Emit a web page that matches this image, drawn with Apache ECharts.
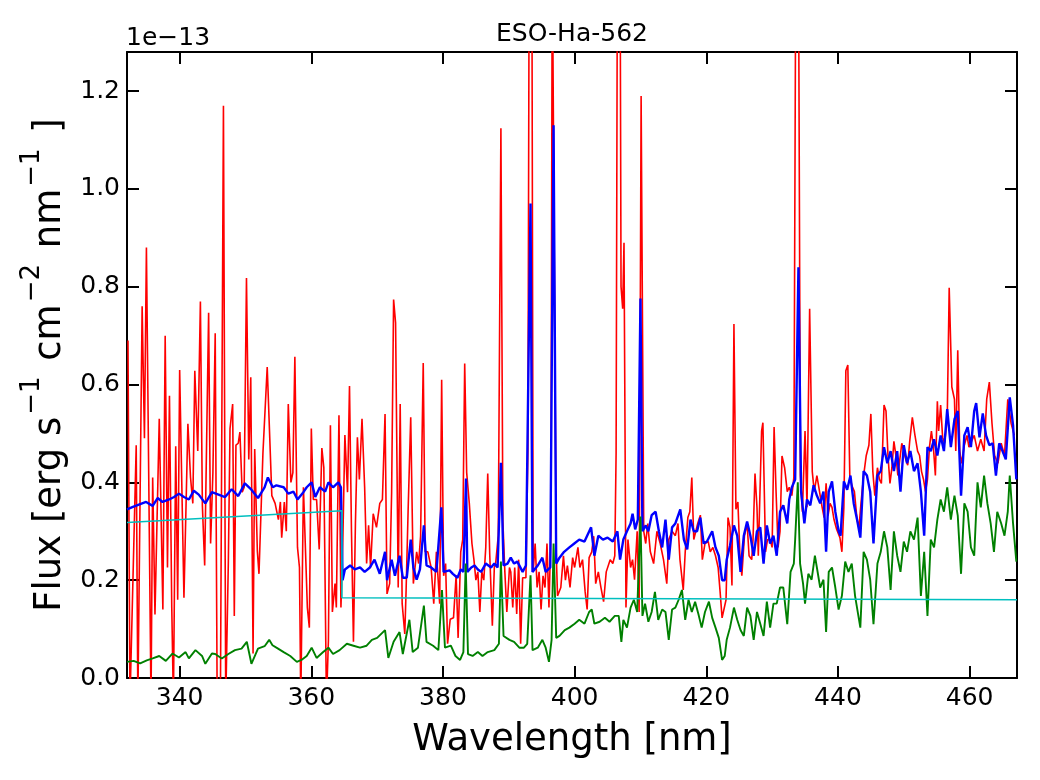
<!DOCTYPE html>
<html>
<head>
<meta charset="utf-8">
<script src="https://cdn.jsdelivr.net/npm/echarts@6/dist/echarts.min.js"></script>
<style>html,body{margin:0;padding:0;background:#fff}#c{width:1040px;height:780px}</style>
</head>
<body>
<div id="c"></div>
<script>
// wavelength [nm], flux [1e-13 erg s^-1 cm^-2 nm^-1]
const xTicks = [340, 360, 380, 400, 420, 440, 460];
const yTicks = [0.0, 0.2, 0.4, 0.6, 0.8, 1.0, 1.2];
const yTickLabels = ['0.0', '0.2', '0.4', '0.6', '0.8', '1.0', '1.2'];
const titleText = 'ESO-Ha-562';
const offsetText = '1e\u221213';

const redSpec = [
[332.15,0.69],[332.45,-0.05],[333.4,0.476],[333.65,-0.05],[334.3,0.76],[334.65,0.49],[334.95,0.88],[335.65,-0.05],[335.9,0.41],[336.25,0.13],[336.9,0.53],[337.45,0.14],[337.8,0.70],[338.15,0.226],[338.45,0.577],[338.8,0.144],[339.05,-0.05],[339.4,0.474],[339.7,0.16],[340.0,0.63],[340.65,0.164],[341.25,0.52],[341.65,0.41],[342.0,0.357],[342.3,0.628],[342.75,0.464],[343.15,0.77],[343.45,0.353],[343.8,0.23],[344.4,0.747],[344.7,0.275],[345.05,0.42],[345.4,0.705],[345.7,-0.05],[346.2,-0.02],[346.65,1.17],[347.0,-0.05],[347.4,0.24],[347.65,0.51],[348.05,0.56],[348.3,0.127],[348.55,0.476],[348.9,0.48],[349.15,0.503],[349.5,0.38],[349.8,0.39],[350.15,0.818],[350.5,0.447],[350.8,0.615],[351.15,0.05],[351.4,0.468],[351.8,0.26],[352.05,0.213],[352.65,0.46],[353.3,0.636],
[354.0,0.373],[354.5,0.357],[355.0,0.324],[355.3,0.36],[355.5,0.287],[355.9,0.36],[356.2,0.30],[356.5,0.56],[356.9,0.40],[357.2,0.42],[357.5,0.657],[357.9,0.267],[358.2,0.226],[358.4,-0.05],[358.8,0.39],[359.1,0.39],[359.4,0.144],[359.7,0.103],[360.0,0.51],[360.3,0.365],[360.8,0.365],[361.2,0.263],[361.6,0.47],[361.9,0.43],[362.3,-0.05],[362.6,0.078],[362.9,0.517],[363.2,0.135],[363.6,0.193],[363.8,0.144],[364.2,0.537],[364.5,0.144],[364.8,0.29],[365.1,0.497],[365.5,0.38],[365.8,0.597],[366.1,0.30],[366.4,0.074],[366.7,0.316],[367.0,0.492],[367.3,0.406],[367.7,0.53],[368.1,0.39],[368.4,0.234],[368.7,0.312],[369.0,0.226],[369.4,0.336],[369.9,0.308],[370.4,0.357],[370.8,0.365],[371.2,0.54],[371.5,0.172],[371.9,0.193],[372.2,0.38],[372.5,0.774],[372.8,0.726],[373.2,0.185],[373.5,0.56],[373.8,0.152],[374.2,0.09],[374.4,0.18],[374.7,0.34],[375.1,0.533],[375.5,0.193],[376.0,0.258],[376.3,0.234],[376.6,0.29],[377.0,0.644],[377.3,0.258],[377.7,0.258],[378.2,0.226],[378.6,0.152],[379.0,0.258],[379.5,0.152],[379.8,0.61],[380.1,0.209],[380.4,0.234],[380.7,0.07],[381.1,0.12],[381.6,0.123],[382.0,0.21],[382.3,0.082],[382.7,0.258],[383.0,0.283],[383.3,0.643],[383.6,0.42],[384.0,0.357],[384.4,0.275],[384.7,0.242],[385.0,0.20],[385.3,0.217],[385.6,0.135],[385.9,0.217],[386.2,0.20],[386.5,0.267],[386.8,0.418],[387.1,0.254],[387.5,0.107],[387.8,0.226],[388.0,0.234],[388.4,0.291],[388.8,1.124],[389.1,0.32],[389.4,0.217],[389.7,0.135],[390.1,0.226],[390.3,0.217],[390.6,0.144],[390.9,0.226],[391.2,0.131],[391.5,0.242],[391.8,0.07],[392.1,0.205],[392.6,0.205],[392.9,0.464],[393.1,1.5],[393.5,1.5],[393.7,0.217],[394.0,0.275],[394.3,0.185],[394.6,0.217],[394.9,0.14],[395.2,0.209],[395.5,0.185],[395.8,0.275],[396.1,0.144],[396.4,0.30],[396.6,1.5],[396.9,1.5],[397.2,0.258],[397.4,0.168],[397.9,0.185],[398.3,0.25],[398.6,0.20],[398.9,0.23],[399.3,0.185],[399.7,0.246],[400.0,0.226],[400.5,0.267],[400.8,0.226],[401.2,0.242],[401.6,0.176],[401.9,0.14],[402.2,0.246],[402.6,0.258],[402.9,0.29],[403.2,0.193],[403.6,0.217],[404.0,0.185],[404.4,0.156],[404.8,0.217],[405.1,0.217],[405.4,0.242],[405.8,0.234],[406.1,0.25],[406.3,0.46],[406.5,1.5],[406.9,1.5],[407.05,0.8],[407.3,0.755],[407.5,0.89],[407.8,0.144],[408.1,0.283],[408.5,0.226],[408.8,0.242],[409.1,0.201],[409.5,0.30],[409.8,0.135],[410.1,1.19],[410.5,0.30],
[410.8,0.275],[411.1,0.316],[411.5,0.258],[412.0,0.234],[412.5,0.30],[413.0,0.275],[413.5,0.242],[414.0,0.193],[414.3,0.283],[414.8,0.30],[415.3,0.291],[415.7,0.316],[416.0,0.242],[416.5,0.18],[416.8,0.258],[417.2,0.328],[417.5,0.34],[417.8,0.41],[418.1,0.283],[418.4,0.279],[418.7,0.316],[419.1,0.333],[419.4,0.242],[419.8,0.275],[420.3,0.279],[420.6,0.258],[421.0,0.267],[421.4,0.25],[421.8,0.226],[422.1,0.176],[422.4,0.123],[422.7,0.119],[423.0,0.16],[423.3,0.328],[423.6,0.308],[423.9,0.189],[424.2,0.724],[424.5,0.345],[424.8,0.36],[425.1,0.254],[425.4,0.209],[425.8,0.291],[426.2,0.316],[426.5,0.25],[426.9,0.242],[427.1,0.283],[427.4,0.418],[427.7,0.349],[427.9,0.25],[428.4,0.505],[428.6,0.522],[429.0,0.258],[429.3,0.283],[429.7,0.283],[430.0,0.267],[430.3,0.513],[430.6,0.381],[430.9,0.267],[431.2,0.30],[431.5,0.454],[431.9,0.43],[432.3,0.381],[432.6,0.39],[433.0,0.373],[433.3,0.41],[433.6,1.5],[434.0,1.5],[434.3,0.414],[434.6,0.34],[435.0,0.505],[435.3,0.349],[435.7,0.755],[436.1,0.422],[436.4,0.381],[436.8,0.414],[437.1,0.39],
[437.3,0.373],[437.6,0.349],[437.9,0.328],[438.2,0.398],[438.5,0.332],[438.8,0.357],[439.1,0.349],[439.4,0.324],[439.8,0.304],[440.3,0.287],[440.6,0.258],[440.9,0.349],[441.2,0.628],[441.5,0.64],[441.8,0.414],[442.1,0.394],[442.5,0.381],[442.9,0.324],[443.2,0.308],[443.5,0.357],[443.9,0.414],[444.3,0.455],[444.7,0.476],[445.0,0.54],[445.3,0.422],[445.6,0.373],[446.0,0.43],[446.3,0.406],[446.6,0.398],[447.0,0.558],[447.3,0.546],[447.6,0.455],[447.9,0.398],[448.2,0.43],[448.5,0.484],[448.8,0.455],[449.1,0.414],[449.4,0.447],[449.7,0.48],[450.0,0.484],[450.3,0.447],[450.6,0.435],[450.9,0.484],[451.3,0.533],[451.7,0.496],[452.1,0.464],[452.4,0.455],[452.7,0.422],[453.0,0.406],[453.3,0.381],[453.6,0.406],[453.9,0.472],[454.2,0.505],[454.5,0.472],[454.8,0.414],[455.1,0.566],[455.3,0.505],[455.6,0.558],[455.9,0.492],[456.2,0.48],[456.6,0.529],[456.9,0.798],[457.3,0.595],[457.7,0.57],[457.9,0.464],[458.2,0.67],[458.5,0.464],[458.8,0.439],[459.2,0.476],[459.6,0.496],[459.9,0.472],[460.3,0.484],[460.7,0.496],[461.2,0.464],[461.7,0.488],[462.2,0.464],[462.6,0.57],[463.0,0.605],[463.4,0.521],[463.8,0.455],[464.3,0.439],[464.8,0.48],[465.3,0.455],[465.8,0.57],[466.3,0.521],[466.8,0.496]
];

const blueSpec = [
[332.0,0.345],[332.9,0.35],[333.9,0.355],[334.9,0.36],[335.9,0.352],[336.65,0.368],[337.4,0.36],[338.4,0.365],[339.15,0.37],[339.9,0.377],[340.65,0.37],[341.4,0.365],[342.15,0.383],[342.9,0.375],[343.9,0.357],[344.9,0.38],[345.9,0.375],[346.9,0.37],[347.9,0.386],[348.9,0.372],[349.9,0.398],[350.9,0.385],[351.9,0.368],[352.9,0.39],[353.4,0.41],[354.15,0.39],
[354.7,0.394],[355.8,0.39],[356.5,0.377],[357.3,0.381],[357.9,0.365],[358.8,0.38],[359.3,0.39],[360.05,0.40],[360.6,0.37],[361.3,0.39],[362.1,0.381],[362.6,0.40],[363.3,0.39],[364.1,0.40],[364.5,0.39],[364.75,0.20],[365.1,0.222],[365.9,0.23],[366.6,0.222],[367.4,0.226],[368.1,0.217],[368.9,0.226],[369.6,0.242],[370.4,0.213],[371.2,0.258],[371.5,0.20],[372.2,0.242],[372.7,0.209],[373.4,0.25],[373.9,0.205],[374.5,0.205],[375.1,0.283],[375.5,0.226],[376.0,0.201],[376.5,0.222],[377.1,0.312],[377.5,0.23],[378.2,0.226],[379.0,0.217],[379.75,0.349],[380.1,0.217],[381.0,0.22],
[381.5,0.213],[382.2,0.205],[382.7,0.222],[383.1,0.217],[383.5,0.408],[383.7,0.217],[384.3,0.226],[384.8,0.23],[385.3,0.222],[385.8,0.217],[386.5,0.234],[387.3,0.226],[387.8,0.234],[388.3,0.226],[388.8,0.44],[389.2,0.23],[389.8,0.234],[390.3,0.246],[390.8,0.234],[391.3,0.238],[392.1,0.217],[392.6,0.23],[393.3,0.97],[393.6,0.217],[394.4,0.23],[395.1,0.246],[395.6,0.217],[396.3,0.226],[396.8,1.13],[397.2,0.234],[397.7,0.246],[398.4,0.258],[399.2,0.267],[399.95,0.275],[400.7,0.283],[401.5,0.279],[402.5,0.308],[403.0,0.25],[403.6,0.291],[404.3,0.283],[405.0,0.287],[405.8,0.279],[406.5,0.30],[406.9,0.242],[407.4,0.283],[407.95,0.30],
[408.5,0.316],[408.8,0.336],[409.2,0.304],[409.6,0.324],[410.0,0.776],[410.3,0.30],[410.8,0.312],[411.2,0.30],[411.7,0.333],[412.3,0.34],[412.8,0.30],[413.3,0.267],[413.8,0.324],[414.3,0.242],[414.8,0.308],[415.3,0.316],[416.05,0.345],[416.6,0.283],[417.1,0.263],[417.6,0.324],[418.1,0.30],[418.6,0.30],[419.1,0.328],[419.6,0.275],[420.1,0.279],[420.9,0.30],[421.4,0.267],[421.9,0.25],[422.4,0.20],[422.8,0.20],[423.1,0.242],[423.6,0.271],[424.2,0.312],[424.7,0.291],[425.2,0.217],[425.7,0.291],[426.2,0.32],[426.7,0.291],[427.2,0.25],[427.7,0.30],[428.2,0.308],[428.7,0.234],[429.2,0.312],[429.7,0.275],[430.2,0.291],[430.7,0.25],[431.2,0.34],[431.7,0.353],[432.3,0.316],[432.6,0.365],[433.0,0.39],[433.5,0.406],[434.0,0.84],[434.4,0.381],[434.9,0.316],[435.3,0.365],[435.8,0.353],[436.3,0.394],[436.8,0.373],
[437.3,0.357],[437.8,0.381],[438.2,0.258],[438.6,0.381],[439.1,0.402],[439.6,0.34],[440.1,0.30],[440.4,0.291],[440.9,0.402],[441.4,0.385],[441.9,0.414],[442.4,0.357],[442.9,0.324],[443.4,0.287],[443.9,0.423],[444.4,0.414],[444.9,0.381],[445.4,0.275],[446.0,0.414],[446.5,0.423],[447.0,0.472],[447.5,0.439],[448.0,0.464],[448.5,0.423],[449.0,0.464],[449.5,0.381],[450.0,0.476],[450.5,0.439],[451.0,0.464],[451.55,0.423],[452.1,0.439],[452.6,0.381],[453.1,0.291],[453.6,0.472],[454.1,0.464],[454.6,0.488],[455.1,0.455],[455.6,0.496],[456.1,0.464],[456.6,0.55],[457.15,0.472],[457.7,0.529],[458.2,0.546],[458.7,0.373],[459.2,0.496],[459.7,0.513],[460.2,0.472],[460.7,0.546],[461.0,0.562],[461.5,0.492],[462.0,0.541],[462.5,0.496],[463.0,0.476],[463.5,0.48],[464.0,0.414],[464.5,0.48],[465.0,0.464],[465.5,0.447],[466.1,0.574],[466.6,0.517],[467.1,0.406]
];

const greenSpec = [
[332.0,0.033],[333.0,0.035],[334.0,0.03],[335.0,0.036],[335.9,0.04],[336.9,0.045],[337.9,0.035],[338.9,0.05],[339.9,0.042],[340.9,0.053],[341.4,0.04],[342.4,0.057],[343.4,0.045],[343.9,0.029],[344.9,0.05],[345.4,0.049],[346.4,0.04],[347.4,0.049],[348.4,0.057],[349.4,0.06],[350.2,0.074],[350.9,0.029],[351.9,0.06],[352.9,0.065],[353.6,0.078],[354.1,0.067],
[354.7,0.062],[355.8,0.053],[356.8,0.045],[357.8,0.033],[358.5,0.037],[359.3,0.045],[360.05,0.062],[360.8,0.041],[361.8,0.053],[362.6,0.062],[363.3,0.049],[364.3,0.057],[365.4,0.07],[366.4,0.066],[367.4,0.062],[368.4,0.066],[369.2,0.078],[370.0,0.082],[371.2,0.098],[371.7,0.041],[372.5,0.074],[373.4,0.094],[373.9,0.049],[374.9,0.119],[375.4,0.053],[376.2,0.062],[377.1,0.148],[377.5,0.074],[378.5,0.066],[379.3,0.057],[379.85,0.18],[380.3,0.062],[381.2,0.066],
[381.9,0.045],[382.6,0.037],[383.1,0.053],[383.45,0.234],[383.8,0.049],[384.5,0.045],[385.3,0.053],[386.0,0.045],[386.8,0.053],[387.8,0.057],[388.5,0.07],[388.8,0.238],[389.2,0.086],[390.1,0.078],[390.8,0.074],[391.6,0.062],[392.3,0.062],[392.8,0.07],[393.3,0.21],[393.6,0.057],[394.4,0.062],[395.1,0.078],[395.6,0.062],[396.1,0.033],[396.5,0.078],[396.8,0.275],[397.2,0.082],[397.7,0.086],[398.5,0.098],[399.2,0.103],[400.0,0.111],[400.7,0.119],[401.5,0.111],[402.2,0.135],[402.6,0.14],[403.0,0.111],[403.8,0.115],[404.6,0.123],[405.3,0.115],[406.1,0.127],[406.7,0.127],[407.1,0.074],[407.4,0.119],[407.95,0.103],
[408.5,0.144],[409.0,0.16],[409.5,0.135],[410.0,0.33],[410.3,0.127],[410.7,0.152],[411.2,0.115],[411.7,0.135],[412.2,0.176],[412.7,0.119],[413.3,0.14],[413.8,0.135],[414.3,0.078],[414.8,0.14],[415.3,0.144],[415.8,0.16],[416.3,0.18],[416.8,0.119],[417.3,0.16],[417.8,0.135],[418.3,0.156],[418.8,0.131],[419.3,0.103],[419.8,0.135],[420.4,0.156],[420.9,0.123],[421.4,0.103],[421.9,0.082],[422.4,0.037],[422.8,0.045],[423.1,0.078],[423.6,0.103],[424.2,0.144],[424.7,0.119],[425.2,0.098],[425.7,0.086],[426.2,0.144],[426.7,0.127],[427.2,0.078],[427.7,0.135],[428.2,0.111],[428.7,0.086],[429.2,0.156],[429.7,0.103],[430.2,0.152],[430.7,0.152],[431.2,0.185],[431.7,0.185],[432.3,0.11],[432.8,0.217],[433.3,0.234],[433.5,0.283],[433.9,0.40],[434.25,0.234],[434.7,0.193],[435.0,0.152],[435.5,0.213],[436.0,0.201],[436.5,0.25],
[436.8,0.226],[437.3,0.185],[437.8,0.201],[438.2,0.094],[438.6,0.217],[439.1,0.226],[439.6,0.185],[440.1,0.14],[440.6,0.168],[441.1,0.238],[441.6,0.217],[442.1,0.234],[442.6,0.168],[443.4,0.103],[443.9,0.258],[444.4,0.242],[444.9,0.201],[445.4,0.11],[446.0,0.234],[446.5,0.258],[447.0,0.30],[447.5,0.267],[448.0,0.18],[448.5,0.30],[449.0,0.25],[449.5,0.217],[450.0,0.279],[450.5,0.258],[451.0,0.30],[451.55,0.283],[452.1,0.328],[452.6,0.168],[453.1,0.258],[453.6,0.127],[454.1,0.283],[454.6,0.267],[455.1,0.324],[455.6,0.365],[456.1,0.34],[456.6,0.39],[457.15,0.324],[457.7,0.373],[458.2,0.332],[458.7,0.213],[459.2,0.357],[459.7,0.34],[460.2,0.267],[460.7,0.25],[461.2,0.40],[461.7,0.349],[462.2,0.414],[462.7,0.357],[463.2,0.316],[463.7,0.258],[464.2,0.34],[464.8,0.316],[465.3,0.291],[465.8,0.34],[466.1,0.414],[466.6,0.316],[467.1,0.238]
];

const cyanSpec = [[332.0,0.318],[364.65,0.342],[364.65,0.164],[467.2,0.160]];

const chart = echarts.init(document.getElementById('c'), null, {renderer: 'canvas'});
const FONT = 'DejaVu Sans';
const axisLineStyle = {color: '#000', width: 2};
function xAx(pos, showLabel) {
  return {
    type: 'value', position: pos, min: 332, max: 467.2,
    axisLine: {show: true, onZero: false, lineStyle: axisLineStyle},
    axisTick: {show: true, inside: true, length: 12, customValues: xTicks, lineStyle: {color: '#000', width: 2}},
    axisLabel: {show: showLabel, customValues: xTicks, fontSize: 25, fontFamily: FONT, color: '#000', margin: 5, lineHeight: 30},
    splitLine: {show: false}
  };
}
function yAx(pos, showLabel) {
  return {
    type: 'value', position: pos, min: 0, max: 1.28,
    axisLine: {show: true, onZero: false, lineStyle: axisLineStyle},
    axisTick: {show: true, inside: true, length: 12, customValues: yTicks, lineStyle: {color: '#000', width: 2}},
    axisLabel: {show: showLabel, customValues: yTicks, fontSize: 25, fontFamily: FONT, color: '#000', margin: 7,
      formatter: v => yTickLabels[yTicks.findIndex(t => Math.abs(t - v) < 1e-6)]},
    splitLine: {show: false}
  };
}
const xMain = xAx('bottom', true);
xMain.name = 'Wavelength [nm]';
xMain.nameLocation = 'middle';
xMain.nameGap = 36;
xMain.nameTextStyle = {fontSize: 37, fontFamily: FONT, color: '#000', lineHeight: 44};
const yMain = yAx('left', true);
yMain.name = '{t|Flux [erg s}{s|\u22121}{t| cm}{s|\u22122}{t| nm}{s|\u22121}{t| ]}';
yMain.nameLocation = 'middle';
yMain.nameRotate = 90;
yMain.nameGap = 52;
yMain.nameTextStyle = {
  rich: {
    t: {fontSize: 37, fontFamily: FONT, color: '#000', lineHeight: 50, verticalAlign: 'bottom'},
    s: {fontSize: 26, fontFamily: FONT, color: '#000', lineHeight: 24, verticalAlign: 'top', padding: [0, 4, 0, 2]}
  }
};

function lineSeries(data, color, width) {
  return {type: 'line', data: data, xAxisIndex: 0, yAxisIndex: 0, showSymbol: false, symbol: 'none',
    clip: true, lineStyle: {color: color, width: width}, itemStyle: {color: color}, emphasis: {disabled: true}, silent: true};
}

chart.setOption({
  animation: false,
  backgroundColor: '#fff',
  grid: {left: 127, right: 23, top: 52, bottom: 102, containLabel: false},
  xAxis: [xMain, xAx('top', false)],
  yAxis: [yMain, yAx('right', false)],
  graphic: [
    {type: 'text', x: 572, y: 34, z: 10,
      style: {text: titleText, fontSize: 25, fontFamily: FONT, fill: '#000', align: 'center', verticalAlign: 'middle', textAlign: 'center', textVerticalAlign: 'middle'}},
    {type: 'text', x: 126, y: 38, z: 10,
      style: {text: offsetText, fontSize: 25, fontFamily: FONT, fill: '#000', align: 'left', verticalAlign: 'middle', textAlign: 'left', textVerticalAlign: 'middle'}}
  ],
  series: [
    lineSeries(redSpec, '#ff0000', 1.6),
    lineSeries(blueSpec, '#0000ff', 2.4),
    lineSeries(greenSpec, '#008000', 1.9),
    lineSeries(cyanSpec, '#00bfbf', 1.6)
  ]
});
</script>
</body>
</html>
